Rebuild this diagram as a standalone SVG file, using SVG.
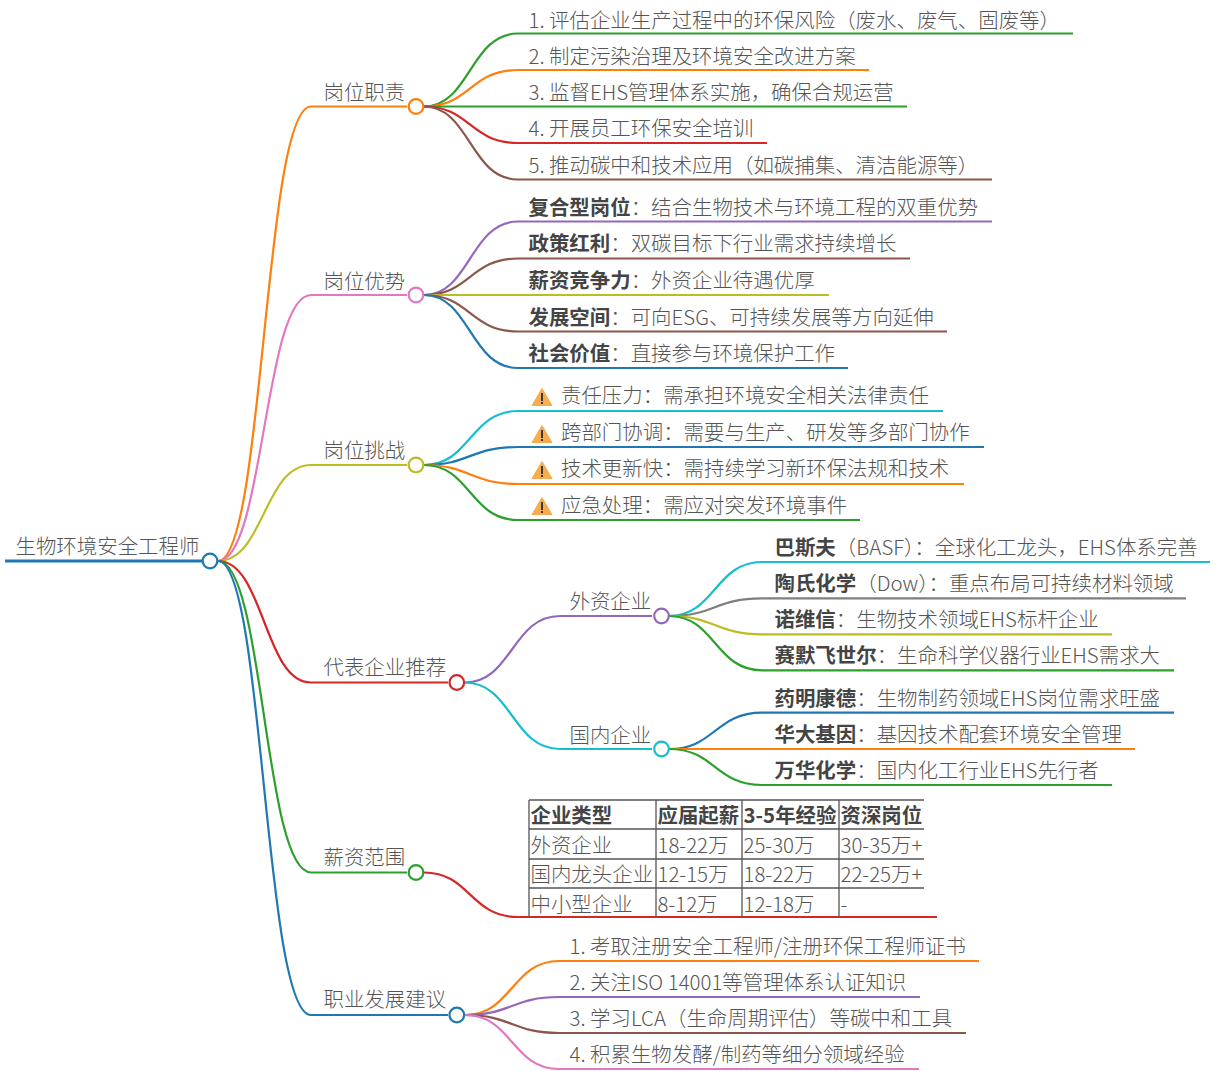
<svg xmlns="http://www.w3.org/2000/svg" width="1223" height="1080" viewBox="0 0 1223 1080">
<style>
text{font-family:"Noto Sans CJK SC","Noto Sans",sans-serif;font-size:20.45px;font-weight:300;fill:#555}
.b{font-weight:700;fill:#444}
#connectors path{fill:none;stroke-width:2.2}
.dot{fill:#fff;stroke-width:2.2}
.blue{stroke:#1f77b4}.orange{stroke:#ff7f0e}.green{stroke:#2ca02c}.red{stroke:#d62728}.purple{stroke:#9467bd}.brown{stroke:#8c564b}.pink{stroke:#e377c2}.gray{stroke:#7f7f7f}.olive{stroke:#bcbd22}.cyan{stroke:#17becf}
.grid{stroke:#555;stroke-width:1.3;fill:none}
</style>
<defs>
<g id="warn"><path d="M10,0.5 L20,17.5 L0,17.5 Z" fill="#f6ad4f" stroke="#f6ad4f" stroke-linejoin="round"/><rect x="9" y="5" width="2" height="8" fill="#3a3a3a"/><rect x="9" y="14" width="2" height="2" fill="#3a3a3a"/></g>
</defs>
<rect width="1223" height="1080" fill="#fff"/>
<g id="connectors">
<path class="blue" style="stroke-width:3" d="M5,561H203"/>
<path class="orange" d="M218,561C264,561 264,106.5 311,106.5H407"/>
<path class="pink" d="M218,561C264,561 264,295 311,295H407"/>
<path class="olive" d="M218,561C264,561 264,465 311,465H407"/>
<path class="red" d="M218,561C264,561 264,682.5 311,682.5H448"/>
<path class="green" d="M218,561C264,561 264,872.5 311,872.5H407"/>
<path class="blue" d="M218,561C264,561 264,1015 311,1015H448"/>
<path class="green" d="M424,106.5C470,106.5 470,33.5 518,33.5H1073"/>
<path class="orange" d="M424,106.5C470,106.5 470,70 518,70H869"/>
<path class="green" d="M424,106.5H907"/>
<path class="red" d="M424,106.5C470,106.5 470,143 518,143H767"/>
<path class="brown" d="M424,106.5C470,106.5 470,179.5 518,179.5H992"/>
<path class="purple" d="M424,295C470,295 470,221.5 518,221.5H992"/>
<path class="brown" d="M424,295C470,295 470,258.5 518,258.5H910"/>
<path class="olive" d="M424,295H829"/>
<path class="brown" d="M424,295C470,295 470,331.5 518,331.5H947"/>
<path class="blue" d="M424,295C470,295 470,368 518,368H848"/>
<path class="cyan" d="M424,465C470,465 470,411 518,411H943"/>
<path class="blue" d="M424,465C470,465 470,447 518,447H984"/>
<path class="orange" d="M424,465C470,465 470,484 518,484H964"/>
<path class="green" d="M424,465C470,465 470,520 518,520H860"/>
<path class="purple" d="M465,682.5C512,682.5 512,616 560,616H652"/>
<path class="cyan" d="M465,682.5C512,682.5 512,749 560,749H652"/>
<path class="cyan" d="M669,616C715,616 715,562 762,562H1210"/>
<path class="gray" d="M669,616C715,616 715,598.3 762,598.3H1186"/>
<path class="olive" d="M669,616C715,616 715,634.3 762,634.3H1112"/>
<path class="green" d="M669,616C715,616 715,670.3 762,670.3H1174"/>
<path class="blue" d="M669,749C715,749 715,712.7 762,712.7H1174"/>
<path class="orange" d="M669,749H1135"/>
<path class="green" d="M669,749C715,749 715,785 762,785H1112"/>
<path class="red" d="M424,872.5C470,872.5 470,917 518,917H937"/>
<path class="orange" d="M465,1015C512,1015 512,961 559,961H979"/>
<path class="purple" d="M465,1015C512,1015 512,997 559,997H920"/>
<path class="brown" d="M465,1015C512,1015 512,1033 559,1033H966"/>
<path class="pink" d="M465,1015C512,1015 512,1069 559,1069H919"/>
</g>
<g id="root"><text x="15.5" y="553.5">生物环境安全工程师</text><circle class="dot blue" cx="210" cy="561" r="7.3"/></g>
<g id="n1"><text x="323.5" y="99.6">岗位职责</text><circle class="dot orange" cx="416" cy="106.5" r="7.3"/></g>
<g id="n1-1"><text x="528.5" y="27.6">1. 评估企业生产过程中的环保风险（废水、废气、固废等）</text></g>
<g id="n1-2"><text x="528.5" y="63.6">2. 制定污染治理及环境安全改进方案</text></g>
<g id="n1-3"><text x="528.5" y="99.6">3. 监督EHS管理体系实施，确保合规运营</text></g>
<g id="n1-4"><text x="528.5" y="136.2">4. 开展员工环保安全培训</text></g>
<g id="n1-5"><text x="528.5" y="172.6">5. 推动碳中和技术应用（如碳捕集、清洁能源等）</text></g>
<g id="n2"><text x="323.5" y="288.6">岗位优势</text><circle class="dot pink" cx="416" cy="295" r="7.3"/></g>
<g id="n2-1"><text x="528.5" y="214.6"><tspan class="b">复合型岗位</tspan>：结合生物技术与环境工程的双重优势</text></g>
<g id="n2-2"><text x="528.5" y="251.2"><tspan class="b">政策红利</tspan>：双碳目标下行业需求持续增长</text></g>
<g id="n2-3"><text x="528.5" y="287.6"><tspan class="b">薪资竞争力</tspan>：外资企业待遇优厚</text></g>
<g id="n2-4"><text x="528.5" y="324.6"><tspan class="b">发展空间</tspan>：可向ESG、可持续发展等方向延伸</text></g>
<g id="n2-5"><text x="528.5" y="360.6"><tspan class="b">社会价值</tspan>：直接参与环境保护工作</text></g>
<g id="n3"><text x="323.5" y="458">岗位挑战</text><circle class="dot olive" cx="416" cy="465" r="7.3"/></g>
<g id="n3-1"><use href="#warn" x="532" y="388"/><text x="561" y="403">责任压力：需承担环境安全相关法律责任</text></g>
<g id="n3-2"><use href="#warn" x="532" y="425"/><text x="561" y="440">跨部门协调：需要与生产、研发等多部门协作</text></g>
<g id="n3-3"><use href="#warn" x="532" y="461"/><text x="561" y="476">技术更新快：需持续学习新环保法规和技术</text></g>
<g id="n3-4"><use href="#warn" x="532" y="497"/><text x="561" y="513">应急处理：需应对突发环境事件</text></g>
<g id="n4"><text x="323.5" y="675">代表企业推荐</text><circle class="dot red" cx="456.8" cy="682.5" r="7.3"/></g>
<g id="n4-1"><text x="569.5" y="609">外资企业</text><circle class="dot purple" cx="661.5" cy="616" r="7.3"/></g>
<g id="n4-1-1"><text x="774.5" y="555"><tspan class="b">巴斯夫</tspan>（BASF）：全球化工龙头，EHS体系完善</text></g>
<g id="n4-1-2"><text x="774.5" y="591"><tspan class="b">陶氏化学</tspan>（Dow）：重点布局可持续材料领域</text></g>
<g id="n4-1-3"><text x="774.5" y="627"><tspan class="b">诺维信</tspan>：生物技术领域EHS标杆企业</text></g>
<g id="n4-1-4"><text x="774.5" y="663"><tspan class="b">赛默飞世尔</tspan>：生命科学仪器行业EHS需求大</text></g>
<g id="n4-2"><text x="569.5" y="742.6">国内企业</text><circle class="dot cyan" cx="661.5" cy="749" r="7.3"/></g>
<g id="n4-2-1"><text x="774.5" y="706"><tspan class="b">药明康德</tspan>：生物制药领域EHS岗位需求旺盛</text></g>
<g id="n4-2-2"><text x="774.5" y="742"><tspan class="b">华大基因</tspan>：基因技术配套环境安全管理</text></g>
<g id="n4-2-3"><text x="774.5" y="778"><tspan class="b">万华化学</tspan>：国内化工行业EHS先行者</text></g>
<g id="n5"><text x="323.5" y="865">薪资范围</text><circle class="dot green" cx="416" cy="872.5" r="7.3"/></g>
<g id="n5-1">
<path class="grid" d="M529,800H924M529,829H924M529,859H924M529,888H924M529,800V917M656,800V917M742,800V917M839,800V917"/>
<text x="530.5" y="822.6" class="b">企业类型</text><text x="657.5" y="822.6" class="b">应届起薪</text><text x="743.5" y="822.6" class="b">3-5年经验</text><text x="840.5" y="822.6" class="b">资深岗位</text>
<text x="530.5" y="852.6">外资企业</text><text x="657.5" y="852.6">18-22万</text><text x="743.5" y="852.6">25-30万</text><text x="840.5" y="852.6">30-35万+</text>
<text x="530.5" y="881.6">国内龙头企业</text><text x="657.5" y="881.6">12-15万</text><text x="743.5" y="881.6">18-22万</text><text x="840.5" y="881.6">22-25万+</text>
<text x="530.5" y="911.6">中小型企业</text><text x="657.5" y="911.6">8-12万</text><text x="743.5" y="911.6">12-18万</text><text x="840.5" y="911.6">-</text>
</g>
<g id="n6"><text x="323.5" y="1007">职业发展建议</text><circle class="dot blue" cx="456.8" cy="1015" r="7.3"/></g>
<g id="n6-1"><text x="569.5" y="953.6">1. 考取注册安全工程师/注册环保工程师证书</text></g>
<g id="n6-2"><text x="569.5" y="989.6">2. 关注ISO 14001等管理体系认证知识</text></g>
<g id="n6-3"><text x="569.5" y="1025.6">3. 学习LCA（生命周期评估）等碳中和工具</text></g>
<g id="n6-4"><text x="569.5" y="1062">4. 积累生物发酵/制药等细分领域经验</text></g>
</svg>
